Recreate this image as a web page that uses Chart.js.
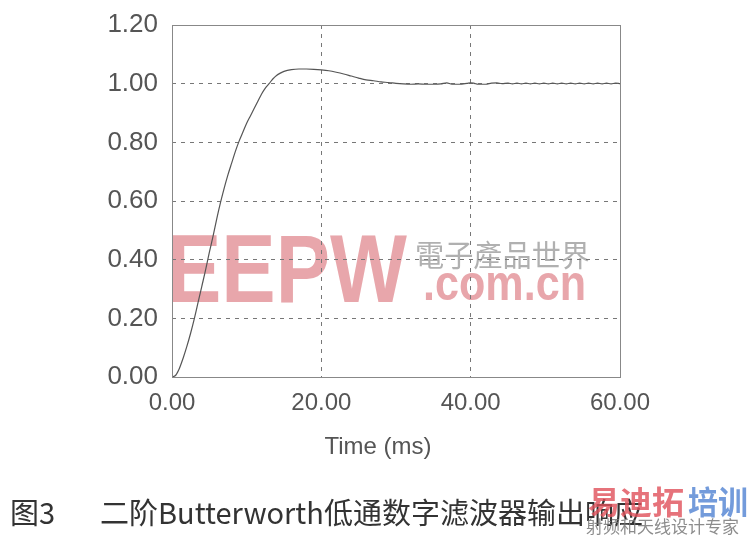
<!DOCTYPE html>
<html>
<head>
<meta charset="utf-8">
<script src="https://cdn.jsdelivr.net/npm/chart.js@4.4.0/dist/chart.umd.min.js"></script>
<style>
  html, body { margin: 0; padding: 0; background: #fff; }
  #wrap { width: 751px; height: 536px; position: relative; }
</style>
</head>
<body>
<div id="wrap"><canvas id="stepChart" width="751" height="536"></canvas></div>
<script>
// step response (time in ms, output amplitude)
const timeMs = [0, 0.5, 1, 1.5, 2, 2.5, 3, 3.5, 4, 4.5, 5, 5.5, 6, 6.5, 7, 7.5, 8, 8.5, 9, 9.5,
  10, 10.5, 11, 11.5, 12, 12.5, 13, 13.5, 14, 14.5, 15, 16, 17, 18, 19, 20, 21, 22, 23, 24,
  25, 26, 27, 28, 29, 30, 31, 32, 33, 34, 35, 36, 36.8, 37.5, 38.5, 39.5, 40, 40.5, 41, 42,
  42.8, 43.5, 44.2, 45, 45.6, 46.2, 46.8, 47.4, 48, 48.6, 49.2, 49.8, 50.4, 51, 51.6, 52.2,
  52.8, 53.4, 54, 54.6, 55.2, 55.8, 56.4, 57, 57.6, 58.2, 58.8, 59.4, 60];
const response = [0, 0.006, 0.03, 0.065, 0.105, 0.15, 0.2, 0.255, 0.31, 0.365, 0.425, 0.48, 0.54, 0.595, 0.645, 0.69, 0.73, 0.77, 0.805, 0.835,
  0.865, 0.89, 0.915, 0.94, 0.965, 0.985, 1.0, 1.016, 1.028, 1.036, 1.042, 1.048, 1.05, 1.05, 1.049, 1.047, 1.044, 1.039, 1.033, 1.026,
  1.019, 1.013, 1.01, 1.006, 1.004, 1.001, 0.999, 0.998, 0.999, 0.998, 0.998, 0.999, 1.003, 0.998, 0.998, 1.001, 1.003, 1.001, 0.998, 0.998,
  1.002, 1.003, 1.0, 1.002, 0.999, 1.002, 0.999, 1.002, 0.999, 1.002, 0.999, 1.002, 0.999, 1.002, 0.999, 1.002,
  0.999, 1.002, 0.999, 1.002, 0.999, 1.002, 0.999, 1.002, 0.999, 1.002, 0.999, 1.002, 1.0];
const xTicks = [0, 20, 40, 60];
const yTicks = [0, 0.2, 0.4, 0.6, 0.8, 1.0, 1.2];

const points = timeMs.map((t, i) => ({ x: t, y: response[i] }));
const fontFam = "'Liberation Sans', Arial, sans-serif";
const textGray = '#555';

// watermark goes under the grid, frame + captions on top
const decor = {
  id: 'decor',
  beforeDraw(chart) {
    const ctx = chart.ctx;
    ctx.save();
    ctx.fillStyle = 'rgba(228,150,156,0.85)';
    ctx.font = "bold 96px " + fontFam;
    ctx.textBaseline = 'alphabetic';
    ctx.fillText('EEPW', 167, 302, 240);
    ctx.font = "bold 50px " + fontFam;
    ctx.fillText('.com.cn', 423, 300, 163);
    ctx.fillStyle = 'rgba(150,150,150,0.75)';
    ctx.font = "30px 'Noto Sans CJK TC', sans-serif";
    ctx.fillText('電子產品世界', 415, 266, 175);
    ctx.restore();
  },
  afterDraw(chart) {
    const { ctx, chartArea: a } = chart;
    ctx.save();
    ctx.strokeStyle = '#888';
    ctx.lineWidth = 1;
    ctx.setLineDash([]);
    ctx.strokeRect(a.left + 0.5, a.top + 0.5, a.right - a.left, a.bottom - a.top);

    ctx.fillStyle = textGray;
    ctx.font = "24px " + fontFam;
    ctx.textAlign = 'center';
    ctx.fillText('Time (ms)', 378, 454);

    ctx.textAlign = 'left';
    ctx.fillStyle = '#333';
    ctx.font = "29px 'Noto Sans CJK SC', sans-serif";
    ctx.fillText('图3', 10, 524);
    ctx.fillText('二阶Butterworth低通数字滤波器输出响应', 100, 524, 645);

    ctx.fillStyle = 'rgba(224,80,90,0.8)';
    ctx.font = "bold 32px 'Noto Sans CJK SC', sans-serif";
    ctx.fillText('易迪拓', 588, 514, 100);
    ctx.fillStyle = 'rgba(80,130,210,0.8)';
    ctx.fillText('培训', 688, 514, 60);
    ctx.fillStyle = 'rgba(120,120,120,0.85)';
    ctx.font = "17px 'Noto Sans CJK SC', sans-serif";
    ctx.fillText('射频和天线设计专家', 586, 533, 162);
    ctx.restore();
  }
};

new Chart(document.getElementById('stepChart'), {
  type: 'scatter',
  data: {
    datasets: [{
      data: points,
      showLine: true,
      borderColor: '#555',
      borderWidth: 1.2,
      pointRadius: 0,
      cubicInterpolationMode: 'monotone'
    }]
  },
  options: {
    responsive: false,
    animation: false,
    layout: { padding: { top: 25, right: 131, bottom: 0, left: 0 } },
    plugins: { legend: { display: false }, tooltip: { enabled: false } },
    scales: {
      x: {
        type: 'linear',
        min: 0,
        max: 60,
        afterFit(scale) { scale.height = 159; scale.paddingLeft = 0; scale.paddingRight = 0; },
        afterBuildTicks(scale) { scale.ticks = xTicks.map(v => ({ value: v })); },
        ticks: { color: textGray, font: { family: fontFam, size: 24 }, padding: 12, maxRotation: 0,
                 callback: v => v.toFixed(2) },
        grid: { color: '#777', lineWidth: 1, drawTicks: false },
        border: { display: false, dash: [4, 5] }
      },
      y: {
        min: 0,
        max: 1.2,
        afterFit(scale) { scale.width = 172; scale.paddingTop = 0; scale.paddingBottom = 0; },
        afterBuildTicks(scale) { scale.ticks = yTicks.map(v => ({ value: v })); },
        ticks: { color: textGray, font: { family: fontFam, size: 26 }, padding: 14,
                 callback: v => v.toFixed(2) },
        grid: { color: '#777', lineWidth: 1, drawTicks: false },
        border: { display: false, dash: [4, 5] }
      }
    }
  },
  plugins: [decor]
});
</script>
</body>
</html>
